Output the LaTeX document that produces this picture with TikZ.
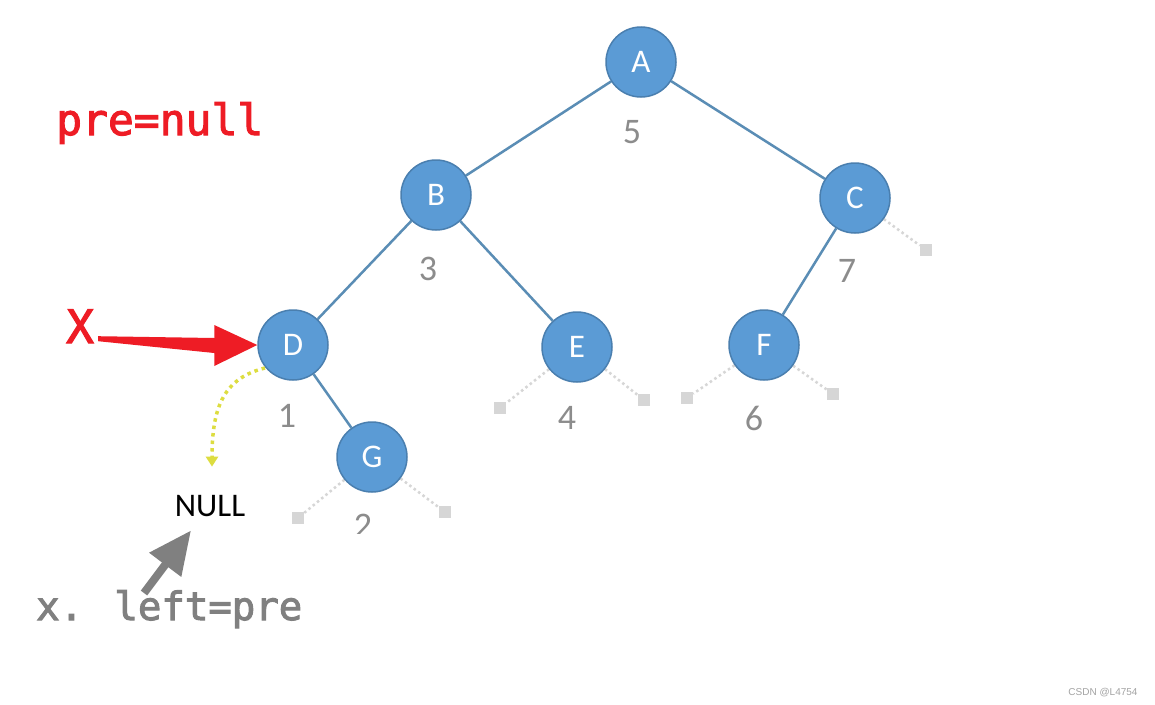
\documentclass[tikz,border=0pt]{standalone}
\usepackage{fontspec}
\setmainfont{Carlito}
\newfontfamily\monofont[FakeBold=2.5]{DejaVu Sans Mono}
\newfontfamily\smallsans{Liberation Sans}
\usetikzlibrary{arrows.meta,calc,backgrounds}
\definecolor{nodefill}{HTML}{5B9BD5}
\definecolor{nodeline}{HTML}{4A7FAF}
\definecolor{edgecol}{HTML}{5A8DB5}
\definecolor{labgray}{HTML}{8C8C8C}
\definecolor{stubgray}{HTML}{D6D6D6}
\definecolor{redcol}{HTML}{EE1C25}
\definecolor{arrgray}{HTML}{808080}
\definecolor{yel}{HTML}{DDDD40}
\begin{document}
\begin{tikzpicture}[x=1pt,y=-1pt,
  treenode/.style={circle,minimum size=70pt,inner sep=0pt,fill=nodefill,draw=nodeline,line width=1.5pt,text=white,font=\fontsize{33}{33}\selectfont},
  edge/.style={edgecol,line width=2.5pt},
  weight/.style={text=labgray,anchor=base,inner sep=0pt,font=\fontsize{36}{36}\selectfont},
  stub/.style={stubgray,line width=2.5pt,dash pattern=on 2.5pt off 3pt},
  nullbox/.style={fill=stubgray,minimum size=12pt,inner sep=0pt},
]
\useasboundingbox (0,0) rectangle (1155,704);
% tree nodes
\node[treenode] (A) at (641,62) {A};
\node[treenode] (B) at (436,195) {B};
\node[treenode] (C) at (855,198) {C};
\node[treenode] (D) at (293,345) {D};
\node[treenode] (E) at (577,347) {E};
\node[treenode] (F) at (764,345) {F};
\node[treenode] (G) at (372,457) {G};
% null stubs
\node[nullbox] (Cr) at (926,250) {};
\node[nullbox] (El) at (500,408) {};
\node[nullbox] (Er) at (644,400) {};
\node[nullbox] (Fl) at (687,398) {};
\node[nullbox] (Fr) at (833,394) {};
\node[nullbox] (Gl) at (298,518) {};
\node[nullbox] (Gr) at (445,512) {};
\begin{scope}[on background layer]
\fill[white] (0,0) rectangle (1155,704);
\draw[stub] (C) -- (Cr);
\draw[stub] (E) -- (El);
\draw[stub] (E) -- (Er);
\draw[stub] (F) -- (Fl);
\draw[stub] (F) -- (Fr);
\draw[stub] (G) -- (Gl);
\draw[stub] (G) -- (Gr);
\draw[edge] (A) -- (B);
\draw[edge] (A) -- (C);
\draw[edge] (B) -- (D);
\draw[edge] (B) -- (E);
\draw[edge] (C) -- (F);
\draw[edge] (D) -- (G);
\end{scope}
% weights
\node[weight] (w5) at (632,143) {5};
\node[weight] (w3) at (428,280) {3};
\node[weight] (w7) at (847,282) {7};
\node[weight] (w1) at (287,427) {1};
\node[weight] (w4) at (567,429) {4};
\node[weight] (w6) at (754,430) {6};
\begin{scope}
\clip (0,0) rectangle (1155,533);
\node[weight] (w2) at (363,537) {2};
\end{scope}
% NULL
\node[anchor=base,inner sep=0pt,font=\fontsize{33}{33}\selectfont] (null) at (210,516) {NULL};
% yellow dotted
\coordinate (ys) at ($(D.center)+(-28,23)$);
\draw[yel,line width=3.5pt,dash pattern=on 3.5pt off 4pt,-{Triangle[length=10pt,width=12pt]}] (ys) .. controls (225,378) and (212,405) .. ($(null.north)+(2,-28)$);
% texts
\node[anchor=base west,inner sep=0pt,text=redcol,font=\monofont\fontsize{43}{43}\selectfont] (pre) at (56,135) {pre=null};
\node[anchor=base west,inner sep=0pt,text=redcol,font=\monofont\fontsize{46}{46}\selectfont] (X) at (66,343) {X};
\node[anchor=base west,inner sep=0pt,text=arrgray,font=\monofont\fontsize{39}{39}\selectfont] (xl) at (36,620) {x. left=pre};
% red tapered arrow X -> D
\coordinate (xs) at ($(X.south east)+(4,-4)$);
\coordinate (rt) at (D.west);
\fill[redcol] ($(xs)+(0,-3)$) -- ($(rt)+(-43,-7)$) -- ($(rt)+(-43,-20)$) -- (rt) -- ($(rt)+(-43,21)$) -- ($(rt)+(-43,8)$) -- ($(xs)+(0,2)$) -- cycle;
% gray arrow
\coordinate (gs) at (144,593);
\draw[arrgray,line width=8pt,-{Triangle[length=43pt,width=38pt]}] (gs) -- ($(null.south)+(-19,14)$);
% watermark
\node[anchor=base,inner sep=0pt,text=labgray!80,font=\smallsans\fontsize{10}{10}\selectfont] (wm) at (1103,695) {CSDN @L4754};
\end{tikzpicture}
\end{document}
